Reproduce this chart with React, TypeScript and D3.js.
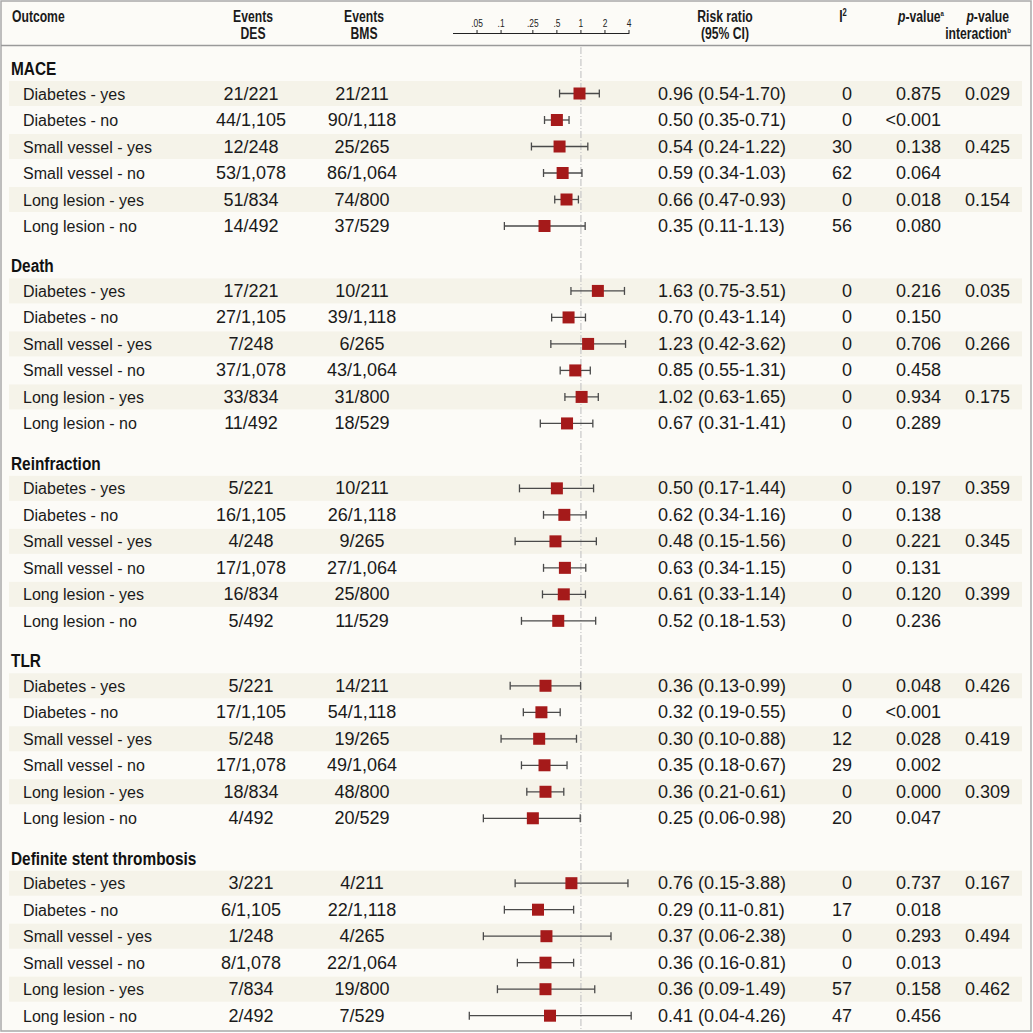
import React, { useEffect, useRef } from 'react';
import * as d3 from 'd3';

const outcomes = ['MACE', 'Death', 'Reinfraction', 'TLR', 'Definite stent thrombosis'];
const subgroups = [
  'Diabetes - yes',
  'Diabetes - no',
  'Small vessel - yes',
  'Small vessel - no',
  'Long lesion - yes',
  'Long lesion - no',
];

const eventsDES = [
  '21/221', '44/1,105', '12/248', '53/1,078', '51/834', '14/492',
  '17/221', '27/1,105', '7/248', '37/1,078', '33/834', '11/492',
  '5/221', '16/1,105', '4/248', '17/1,078', '16/834', '5/492',
  '5/221', '17/1,105', '5/248', '17/1,078', '18/834', '4/492',
  '3/221', '6/1,105', '1/248', '8/1,078', '7/834', '2/492',
];
const eventsBMS = [
  '21/211', '90/1,118', '25/265', '86/1,064', '74/800', '37/529',
  '10/211', '39/1,118', '6/265', '43/1,064', '31/800', '18/529',
  '10/211', '26/1,118', '9/265', '27/1,064', '25/800', '11/529',
  '14/211', '54/1,118', '19/265', '49/1,064', '48/800', '20/529',
  '4/211', '22/1,118', '4/265', '22/1,064', '19/800', '7/529',
];
const riskRatio = [
  0.96, 0.5, 0.54, 0.59, 0.66, 0.35,
  1.63, 0.7, 1.23, 0.85, 1.02, 0.67,
  0.5, 0.62, 0.48, 0.63, 0.61, 0.52,
  0.36, 0.32, 0.3, 0.35, 0.36, 0.25,
  0.76, 0.29, 0.37, 0.36, 0.36, 0.41,
];
const ciLow = [
  0.54, 0.35, 0.24, 0.34, 0.47, 0.11,
  0.75, 0.43, 0.42, 0.55, 0.63, 0.31,
  0.17, 0.34, 0.15, 0.34, 0.33, 0.18,
  0.13, 0.19, 0.1, 0.18, 0.21, 0.06,
  0.15, 0.11, 0.06, 0.16, 0.09, 0.04,
];
const ciHigh = [
  1.7, 0.71, 1.22, 1.03, 0.93, 1.13,
  3.51, 1.14, 3.62, 1.31, 1.65, 1.41,
  1.44, 1.16, 1.56, 1.15, 1.14, 1.53,
  0.99, 0.55, 0.88, 0.67, 0.61, 0.98,
  3.88, 0.81, 2.38, 0.81, 1.49, 4.26,
];
const iSquared = [
  0, 0, 30, 62, 0, 56,
  0, 0, 0, 0, 0, 0,
  0, 0, 0, 0, 0, 0,
  0, 0, 12, 29, 0, 20,
  0, 17, 0, 0, 57, 47,
];
const pValue = [
  '0.875', '<0.001', '0.138', '0.064', '0.018', '0.080',
  '0.216', '0.150', '0.706', '0.458', '0.934', '0.289',
  '0.197', '0.138', '0.221', '0.131', '0.120', '0.236',
  '0.048', '<0.001', '0.028', '0.002', '0.000', '0.047',
  '0.737', '0.018', '0.293', '0.013', '0.158', '0.456',
];
const pInteraction = [
  '0.029', '', '0.425', '', '0.154', '',
  '0.035', '', '0.266', '', '0.175', '',
  '0.359', '', '0.345', '', '0.399', '',
  '0.426', '', '0.419', '', '0.309', '',
  '0.167', '', '0.494', '', '0.462', '',
];
const axisTicks = [0.05, 0.1, 0.25, 0.5, 1, 2, 4];
const axisTickLabels = ['.05', '.1', '.25', '.5', '1', '2', '4'];

const W = 1033;
const H = 1033;
const SQUEEZE = 0.76; // no condensed font installed, squeeze bold headings

const App: React.FC = () => {
  const ref = useRef<SVGSVGElement | null>(null);

  useEffect(() => {
    if (!ref.current) return;
    const svg = d3.select(ref.current);
    svg.selectAll('*').remove();

    const font = "'Liberation Sans', Arial, sans-serif";

    // log scale for risk ratio
    const x = d3.scaleLog().domain([0.025, 4]).range([453, 629]);
    // slot -> pixel; each outcome block takes 7.45 slots (label + 6 rows + gap)
    const y = d3.scaleLinear().domain([0, 1]).range([68, 94.5]);
    const groupSlots = 7.45;
    const rowY = (i: number) => {
      const g = Math.floor(i / subgroups.length);
      const r = i % subgroups.length;
      return y(g * groupSlots + r) + 25.5;
    };
    const labelY = (g: number) => y(g * groupSlots);

    svg.append('rect').attr('x', 0).attr('y', 0).attr('width', W).attr('height', H).attr('fill', '#ffffff');
    svg
      .append('rect')
      .attr('x', 1)
      .attr('y', 1)
      .attr('width', 1030)
      .attr('height', 1030)
      .attr('fill', '#fcfbf7')
      .attr('stroke', '#a9a9a9')
      .attr('stroke-width', 1.5);

    const idx = d3.range(riskRatio.length);

    // shaded bands
    svg
      .selectAll('.band')
      .data(idx.filter((i) => (i % subgroups.length) % 2 === 0))
      .enter()
      .append('rect')
      .attr('x', 9)
      .attr('y', (i) => rowY(i) - 12.5)
      .attr('width', 1013)
      .attr('height', 25)
      .attr('fill', '#f5f3e9');

    // header separator
    svg
      .append('line')
      .attr('x1', 1)
      .attr('x2', 1031)
      .attr('y1', 45.5)
      .attr('y2', 45.5)
      .attr('stroke', '#9a9a9a')
      .attr('stroke-width', 1.5);

    // header text
    const header = svg
      .append('g')
      .style('font-family', font)
      .style('font-weight', 'bold')
      .style('font-size', '16px')
      .attr('fill', '#1a1a1a');
    const headText = (hx: number, hy: number, anchor: string) =>
      header
        .append('text')
        .attr('transform', `translate(${hx},${hy}) scale(${SQUEEZE},1)`)
        .attr('text-anchor', anchor);

    headText(12, 22, 'start').text('Outcome');
    const twoLine = (cx: number, l1: string, l2: string) => {
      headText(cx, 22, 'middle').text(l1);
      headText(cx, 39, 'middle').text(l2);
    };
    twoLine(253, 'Events', 'DES');
    twoLine(364, 'Events', 'BMS');
    twoLine(725, 'Risk ratio', '(95% CI)');

    const i2 = headText(843, 22, 'middle');
    i2.append('tspan').text('I');
    i2.append('tspan').attr('dy', -6).style('font-size', '10px').text('2');

    const pv = headText(944, 22, 'end');
    pv.append('tspan').style('font-style', 'italic').text('p');
    pv.append('tspan').text('-value');
    pv.append('tspan').attr('dy', -6).style('font-size', '8px').text('a');

    const pi1 = headText(1009, 22, 'end');
    pi1.append('tspan').style('font-style', 'italic').text('p');
    pi1.append('tspan').text('-value');
    const pi2 = headText(1011, 39, 'end');
    pi2.append('tspan').text('interaction');
    pi2.append('tspan').attr('dy', -6).style('font-size', '8px').text('b');

    // axis
    const axis = svg.append('g');
    axis
      .append('line')
      .attr('x1', x(0.025))
      .attr('x2', x(4))
      .attr('y1', 33.5)
      .attr('y2', 33.5)
      .attr('stroke', '#222')
      .attr('stroke-width', 1);
    axis
      .selectAll('.tick')
      .data(axisTicks)
      .enter()
      .append('line')
      .attr('x1', (d) => x(d))
      .attr('x2', (d) => x(d))
      .attr('y1', 30)
      .attr('y2', 34)
      .attr('stroke', '#222');
    axis
      .selectAll('.tick-label')
      .data(axisTicks)
      .enter()
      .append('text')
      .attr('transform', (d) => `translate(${x(d)},27) scale(0.8,1)`)
      .attr('text-anchor', 'middle')
      .style('font-family', font)
      .style('font-size', '10.5px')
      .attr('fill', '#222')
      .text((d, i) => axisTickLabels[i]);

    // reference line at 1
    svg
      .append('line')
      .attr('x1', x(1))
      .attr('x2', x(1))
      .attr('y1', 47)
      .attr('y2', 1030)
      .attr('stroke', '#c8c8c8')
      .attr('stroke-width', 1.2)
      .attr('stroke-dasharray', '7,2,1,2');

    // outcome labels
    svg
      .selectAll('.group-label')
      .data(outcomes)
      .enter()
      .append('text')
      .attr('transform', (d, g) => `translate(11,${labelY(g) + 7}) scale(0.81,1)`)
      .style('font-family', font)
      .style('font-weight', 'bold')
      .style('font-size', '19px')
      .attr('fill', '#111')
      .text((d) => d);

    const rows = svg
      .selectAll('.row')
      .data(idx)
      .enter()
      .append('g')
      .attr('transform', (i) => `translate(0,${rowY(i)})`)
      .style('font-family', font)
      .attr('fill', '#1a1a1a');

    rows
      .append('text')
      .attr('x', 23)
      .attr('y', 6)
      .style('font-size', '16px')
      .text((i) => subgroups[i % subgroups.length]);

    const num = (nx: number, anchor: string, f: (i: number) => string) =>
      rows
        .append('text')
        .attr('x', nx)
        .attr('y', 6)
        .attr('text-anchor', anchor)
        .style('font-size', '18px')
        .text(f);

    num(251, 'middle', (i) => eventsDES[i]);
    num(362, 'middle', (i) => eventsBMS[i]);
    num(658, 'start', (i) => `${riskRatio[i].toFixed(2)} (${ciLow[i].toFixed(2)}-${ciHigh[i].toFixed(2)})`);
    num(852, 'end', (i) => String(iSquared[i]));
    num(941, 'end', (i) => pValue[i]);
    num(1010, 'end', (i) => pInteraction[i]);

    // confidence intervals
    const ciLine = (x1: (i: number) => number, x2: (i: number) => number, y1: number, y2: number) =>
      rows
        .append('line')
        .attr('x1', x1)
        .attr('x2', x2)
        .attr('y1', y1)
        .attr('y2', y2)
        .attr('stroke', '#4a4a4a')
        .attr('stroke-width', 1.3);
    ciLine((i) => x(ciLow[i]), (i) => x(ciHigh[i]), 0, 0);
    ciLine((i) => x(ciLow[i]), (i) => x(ciLow[i]), -4, 4);
    ciLine((i) => x(ciHigh[i]), (i) => x(ciHigh[i]), -4, 4);

    rows
      .append('rect')
      .attr('x', (i) => x(riskRatio[i]) - 6)
      .attr('y', -6)
      .attr('width', 12)
      .attr('height', 12)
      .attr('fill', '#a51a1a');
  }, []);

  return (
    <svg
      ref={ref}
      width={W}
      height={H}
      style={{ position: 'absolute', left: 0, top: 0, display: 'block' }}
    ></svg>
  );
};

export default App;
